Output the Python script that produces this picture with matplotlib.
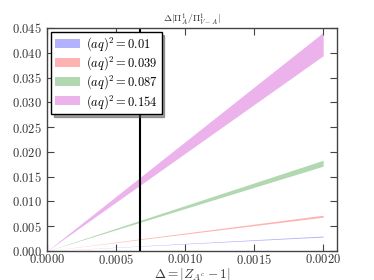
import matplotlib
matplotlib.use('Agg')
import matplotlib.pyplot as plt
from matplotlib.ticker import FormatStrFormatter, MultipleLocator

plt.rcParams['mathtext.fontset'] = 'cm'
plt.rcParams['font.family'] = 'serif'
plt.rcParams['font.serif'] = ['DejaVu Serif']

# band endpoints (linear in Delta, starting at zero)
delta = [0.0, 0.002]
labels = [r'$(aq)^2 = 0.01$', r'$(aq)^2 = 0.039$',
          r'$(aq)^2 = 0.087$', r'$(aq)^2 = 0.154$']
colors = ['b', 'r', 'g', 'm']
lower = [[0, 0.0028], [0, 0.0068], [0, 0.0171], [0, 0.0394]]
upper = [[0, 0.0030], [0, 0.0072], [0, 0.0183], [0, 0.0441]]
vline_x = 0.000672

fig = plt.figure(figsize=(3.74, 2.8), dpi=100)
ax = fig.add_axes([0.126, 0.104, 0.775, 0.796])

for lo, hi, c, lab in zip(lower, upper, colors, labels):
    ax.fill_between(delta, lo, hi, color=c, alpha=0.3, lw=0, label=lab)

ax.axvline(vline_x, color='k', lw=1.5)

ax.set_xlim(0, 0.0021)
ax.set_ylim(0, 0.045)
ax.xaxis.set_major_locator(MultipleLocator(0.0005))
ax.yaxis.set_major_locator(MultipleLocator(0.005))
ax.xaxis.set_major_formatter(FormatStrFormatter(r'$%.4f$'))
ax.yaxis.set_major_formatter(FormatStrFormatter(r'$%.3f$'))
ax.tick_params(direction='in', top=True, right=True, labelsize=9, length=5,
               colors='#444444', labelcolor='#333333')
ax.tick_params(axis='x', pad=1.5)
for s in ax.spines.values():
    s.set_color('#444444')
    s.set_linewidth(1.0)

ax.set_title(r'$\Delta|\Pi^1_A/\Pi^1_{V-A}|$', fontsize=7, pad=4, color='#333333')
ax.set_xlabel(r'$\Delta = |Z_{A^c} - 1|$', fontsize=9.5, labelpad=-0.5, color='#333333')

leg = ax.legend(loc='upper left', fontsize=9, shadow=True, fancybox=False,
                handlelength=2.0, handletextpad=0.5, borderaxespad=0.3,
                labelspacing=0.1, borderpad=0.3)
leg.get_frame().set_edgecolor('k')
leg.get_frame().set_linewidth(1.0)

fig.savefig('out.png', dpi=100)
